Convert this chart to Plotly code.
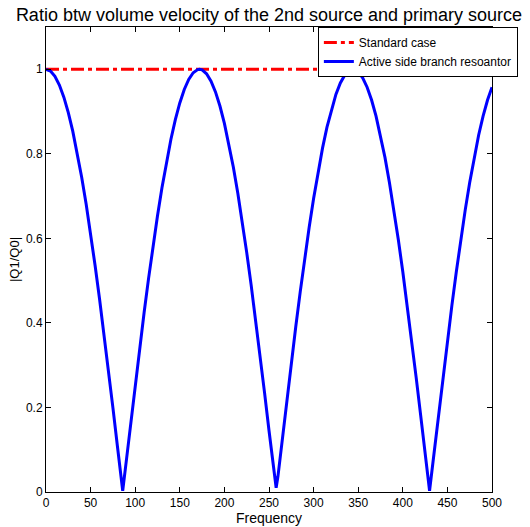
import plotly.graph_objects as go

freq = [0, 5, 10, 15, 20, 25, 30, 35, 40, 45, 50, 55, 60, 65, 70, 75, 80, 85, 86, 90, 95,
        100, 105, 110, 115, 120, 125, 130, 135, 140, 145, 150, 155, 160, 165, 170, 172, 175,
        180, 185, 190, 195, 200, 205, 210, 215, 220, 225, 230, 235, 240, 245, 250, 255, 258, 260, 265,
        270, 275, 280, 285, 290, 295, 300, 305, 310, 315, 320, 325, 330, 335, 340, 344, 345,
        350, 355, 360, 365, 370, 375, 380, 385, 390, 395, 400, 405, 410, 415, 420, 425, 430, 435,
        440, 445, 450, 455, 460, 465, 470, 475, 480, 485, 490, 495, 500]
ratio = [1.0, 0.9958, 0.9834, 0.9627, 0.9340, 0.8975, 0.8536, 0.8026, 0.7446, 0.6812, 0.6111,
         0.5365, 0.4573, 0.3743, 0.2881, 0.1996, 0.1094, 0.0183, 0.003, 0.0730, 0.1637,
         0.2529, 0.3401, 0.4245, 0.5053, 0.5818, 0.6534, 0.7196, 0.7801, 0.8339, 0.8808, 0.9204,
         0.9522, 0.9761, 0.9918, 0.9993, 1.0, 0.9985,
         0.9893, 0.9719, 0.9465, 0.9131, 0.8721, 0.8238, 0.7688, 0.7071, 0.6395, 0.5669, 0.4893,
         0.4078, 0.3230, 0.2352, 0.1456, 0.0548, 0.01, 0.0365, 0.1275,
         0.2174, 0.3056, 0.3910, 0.4735, 0.5518, 0.6255, 0.6942, 0.7568, 0.8134, 0.8630, 0.9054,
         0.9405, 0.9675, 0.9865, 0.9973, 1.0, 0.9998,
         0.9940, 0.9799, 0.9576, 0.9273, 0.8893, 0.8439, 0.7915, 0.7322, 0.6674, 0.5967, 0.5210,
         0.4409, 0.3573, 0.2706, 0.1817, 0.0912, 0.003, 0.0912,
         0.1817, 0.2706, 0.3573, 0.4409, 0.5210, 0.5966, 0.6674, 0.7322, 0.7915, 0.8439, 0.8893,
         0.9273, 0.9576]
std_x = [0, 500]
std_y = [1, 1]

FONT = "Liberation Sans, Arial, Helvetica"

fig = go.Figure()
fig.add_trace(go.Scatter(x=std_x, y=std_y, mode="lines", name="Standard case",
                         line=dict(color="#ff0000", width=3, dash="13px,4px,4px,4px")))
fig.add_trace(go.Scatter(x=freq, y=ratio, mode="lines", name="Active side branch resoantor",
                         line=dict(color="#0000ff", width=3)))

axis_common = dict(showline=True, linecolor="black", linewidth=1, mirror="ticks",
                   ticks="inside", ticklen=5, tickcolor="black", showgrid=False, zeroline=False,
                   automargin=False,
                   tickfont=dict(family=FONT, size=12, color="black"))

fig.update_layout(
    width=530, height=527,
    margin=dict(l=46, r=38, t=27, b=35, autoexpand=False),
    paper_bgcolor="white", plot_bgcolor="white",
    title=dict(text="Ratio btw volume velocity of the 2nd source and primary source",
               x=0.5, xref="paper", xanchor="center", y=1 - 14.5 / 527, yref="container",
               yanchor="middle",
               font=dict(family=FONT, size=18, color="black")),
    xaxis=dict(range=[0, 500], tickvals=list(range(0, 501, 50)),
               title=dict(text="Frequency", standoff=0,
                          font=dict(family=FONT, size=14, color="black")),
               **axis_common),
    yaxis=dict(range=[0, 1.1], tickvals=[0, 0.2, 0.4, 0.6, 0.8, 1],
               ticktext=["0", "0.2", "0.4", "0.6", "0.8", "1"],
               title=dict(text="|Q1/Q0|", standoff=3,
                          font=dict(family=FONT, size=13, color="black")),
               **axis_common),
    legend=dict(x=1.058, xanchor="right", y=1.0, yanchor="top",
                bgcolor="white", bordercolor="black", borderwidth=1,
                font=dict(family=FONT, size=12, color="black"),
                tracegroupgap=0, itemwidth=30),
    showlegend=True,
)

fig.write_html("out.html", config={"displayModeBar": False},
               post_script="document.body.style.margin='0';document.body.style.overflow='hidden';")
